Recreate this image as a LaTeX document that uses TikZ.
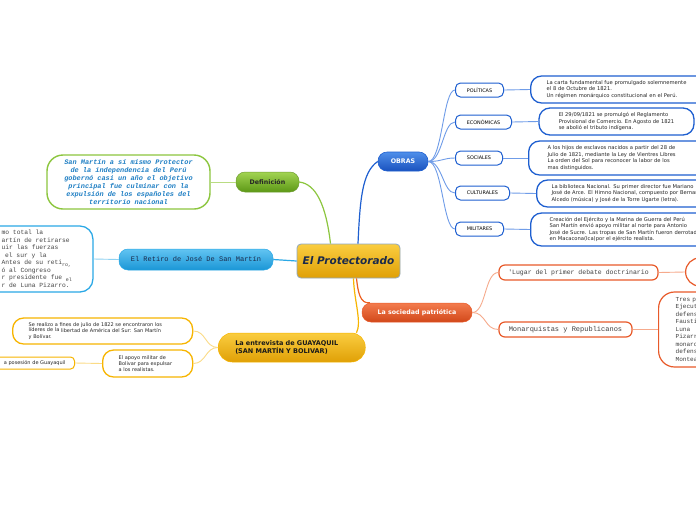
\documentclass[tikz,border=0pt]{standalone}
\usepackage{fontspec}
\setmainfont{DejaVu Sans}
\setsansfont{DejaVu Sans}
\setmonofont{Liberation Mono}
\usetikzlibrary{calc}
\definecolor{cBlue}{HTML}{1E5FD0}
\definecolor{cBlueL}{HTML}{6F9CE8}
\definecolor{cBlueTop}{HTML}{4F8FEA}
\definecolor{cBlueBot}{HTML}{1A52BE}
\definecolor{cGreen}{HTML}{8CC63E}
\definecolor{cGreenL}{HTML}{B9DC82}
\definecolor{cGreenTop}{HTML}{A2D452}
\definecolor{cGreenBot}{HTML}{5C9816}
\definecolor{cCyan}{HTML}{2AA8E6}
\definecolor{cCyanL}{HTML}{90D2F2}
\definecolor{cCyanTop}{HTML}{62C4F2}
\definecolor{cCyanBot}{HTML}{1A96D6}
\definecolor{cGold}{HTML}{F7B500}
\definecolor{cGoldL}{HTML}{FBDB86}
\definecolor{cGoldTop}{HTML}{FACD40}
\definecolor{cGoldBot}{HTML}{E0A006}
\definecolor{cRed}{HTML}{E85A2A}
\definecolor{cRedL}{HTML}{F6AA8C}
\definecolor{cRedTop}{HTML}{F37C4E}
\definecolor{cRedBot}{HTML}{D2481A}
\definecolor{cNavy}{HTML}{1B2A4A}
\definecolor{cDefText}{HTML}{1F7FC4}
\definecolor{cGrayText}{HTML}{444444}
\definecolor{cCentralBorder}{HTML}{8FA8C2}
\newcommand\fsm{\sffamily\fontsize{5.2}{6.6}\selectfont}
\newcommand\fgs{\sffamily\fontsize{5}{6.3}\selectfont}
\begin{document}
\begin{tikzpicture}[x=1pt,y=-1pt,
  central/.style={draw=cCentralBorder, line width=0.8pt, top color=cGoldTop, bottom color=cGoldBot,
    rounded corners=4pt, minimum width=103pt, minimum height=34pt, inner sep=0pt,
    text=cNavy, font=\sffamily\bfseries\itshape\fontsize{10.5}{12}\selectfont},
  mainnode/.style={rounded corners=9pt, inner sep=0pt, font=\sffamily\bfseries\fontsize{6.3}{8}\selectfont},
  pillblue/.style={draw=cBlue, line width=1pt, fill=white, rounded corners=5pt, minimum height=14pt,
    inner sep=0pt, font=\sffamily\fontsize{4.9}{6}\selectfont, anchor=west},
  leafblue/.style={draw=cBlue, line width=1.3pt, fill=white, rounded corners=11pt, inner ysep=2pt,
    font=\fsm, align=left, text=black!85},
  leafgold/.style={draw=cGold, line width=1.3pt, fill=white, rounded corners=11pt, inner ysep=2pt,
    font=\fgs, align=left, text=black!85},
  pillred/.style={draw=cRed, line width=1.2pt, fill=white, rounded corners=6pt, minimum height=15pt,
    inner sep=0pt, text=black!75},
  cnmain/.style={line width=1.2pt},
  cnlight/.style={line width=0.9pt}
]
\useasboundingbox (0,0) rectangle (696,520);
\fill[white] (0,0) rectangle (696,520);
\clip (0,0) rectangle (696,520);

% ---------- nodes ----------
\node[central] (c) at (348.5,261) {El Protectorado};

% OBRAS branch
\node[mainnode, draw=cBlue, line width=0.6pt, top color=cBlueTop, bottom color=cBlueBot, text=white,
  minimum width=50pt, minimum height=19pt] (obras) at (403,161.5) {OBRAS};
\node[pillblue, minimum width=48pt] (pol) at (455,90) {POLÍTICAS};
\node[pillblue, minimum width=56pt] (eco) at (455,122) {ECONÓMICAS};
\node[pillblue, minimum width=47pt] (soc) at (455,158) {SOCIALES};
\node[pillblue, minimum width=54pt] (cul) at (455,193) {CULTURALES};
\node[pillblue, minimum width=48pt] (mil) at (455,229) {MILITARES};

\node[leafblue, anchor=west, inner xsep=16pt, text width=160pt, minimum height=27pt] (lpol) at (530,89.5)
  {La carta fundamental fue promulgado solemnemente\\el 8 de Octubre de 1821.\\Un régimen monárquico constitucional en el Perú.};
\node[leafblue, minimum width=155pt, minimum height=27pt] (leco) at (616.5,121.5)
  {El 29/09/1821 se promulgó el Reglamento\\Provisional de Comercio. En Agosto de 1821\\se abolió el tributo indígena.};
\node[leafblue, anchor=west, inner xsep=19pt, text width=160pt, minimum height=34pt] (lsoc) at (528,158)
  {A los hijos de esclavos nacidos a partir del 28 de\\Julio de 1821, mediante la Ley de Vientres Libres\\La orden del Sol para reconocer la labor de los\\mas distinguidos.};
\node[leafblue, anchor=west, inner xsep=15pt, text width=175pt, minimum height=27pt] (lcul) at (536,193.5)
  {La biblioteca Nacional. Su primer director fue Mariano\\José de Arce. El Himno Nacional, compuesto por Bernardo\\Alcedo (música) y José de la Torre Ugarte (letra).};
\node[leafblue, anchor=west, inner xsep=19pt, text width=175pt, minimum height=33pt] (lmil) at (530,229.5)
  {Creación del Ejército y la Marina de Guerra del Perú\\San Martín envió apoyo militar al norte para Antonio\\José de Sucre. Las tropas de San Martín fueron derrotadas\\en Macacona(Ica)por el ejército realista.};

% Definicion branch
\node[mainnode, draw=cGreen!80!black, line width=0.5pt, top color=cGreenTop, bottom color=cGreenBot, text=black!85,
  minimum width=63pt, minimum height=20pt] (def) at (267.5,182) {Definición};
\node[draw=cGreen, line width=1.4pt, fill=white, rounded corners=16pt, minimum width=163pt, minimum height=54pt,
  inner sep=0pt, align=center, text=cDefText, font=\ttfamily\bfseries\itshape\fontsize{6.9}{8}\selectfont] (ldef) at (128.5,182)
  {San Martín a sí mismo Protector\\de la independencia del Perú\\gobernó casi un año el objetivo\\principal fue culminar con la\\expulsión de los españoles del\\territorio nacional};

% Retiro branch
\node[mainnode, draw=cCyan, line width=0.5pt, top color=cCyanTop, bottom color=cCyanBot, text=cNavy,
  font=\ttfamily\fontsize{7}{8}\selectfont, minimum width=154pt, minimum height=21pt] (ret) at (196,259.5)
  {El Retiro de José De San Martín};
\node[draw=cCyan, line width=1.3pt, fill=white, rounded corners=13pt, anchor=west, inner xsep=21pt, inner ysep=4pt,
  minimum height=66pt, align=left, text=cGrayText, font=\ttfamily\fontsize{6.3}{7.5}\selectfont] (lret) at (-20,259)
  {mo total la\\artín de retirarse\\uir las fuerzas\\\hspace*{3.5pt}el sur y la\\Antes de su reti\raisebox{-1.2pt}{\fontsize{5}{5}\selectfont ro,}\\ó al Congreso\\r presidente fue \raisebox{-1.2pt}{\fontsize{5}{5}\selectfont el}\\r de Luna Pizarro.};

% Guayaquil branch
\node[mainnode, draw=cGold, line width=0.5pt, top color=cGoldTop, bottom color=cGoldBot, text=black!90,
  anchor=west, inner xsep=17pt, text width=113pt, align=left, minimum height=29pt, rounded corners=14pt,
  font=\sffamily\bfseries\fontsize{6.5}{8.6}\selectfont] (gua) at (218,347.5)
  {La entrevista de GUAYAQUIL\\(SAN MARTÍN Y BOLIVAR)};
\node[leafgold, anchor=west, inner xsep=16pt, text width=148pt, minimum height=26pt] (gl1) at (12,331)
  {Se realizo a fines de julio de 1822 se encontraron los\\\raisebox{0.8pt}{líderes de la} libertad de América del Sur: San Martín\\y Bolívar.};
\node[leafgold, anchor=west, inner xsep=16pt, text width=58pt, minimum height=27pt] (gl2) at (102,363.5)
  {El apoyo militar de\\Bolivar para expulsar\\a los realistas.};
\node[draw=cGold, line width=1pt, fill=white, rounded corners=4pt, anchor=east, inner xsep=9pt, inner ysep=0pt,
  text width=110pt, align=right, minimum height=12pt, font=\fgs, text=black!85] (gl3) at (75,363)
  {a posesión de Guayaquil};

% Sociedad branch
\node[mainnode, draw=cRed, line width=0.5pt, top color=cRedTop, bottom color=cRedBot, text=white,
  minimum width=110pt, minimum height=19pt] (soci) at (417,312.5) {La sociedad patriótica};
\node[pillred, minimum width=159pt, font=\ttfamily\fontsize{6.5}{8}\selectfont] (s1) at (578.5,272.5)
  {'Lugar del primer debate doctrinario};
\node[pillred, anchor=west, minimum width=40pt, minimum height=28pt, rounded corners=14pt] (s1c) at (685,272) {};
\node[pillred, minimum width=133pt, font=\ttfamily\fontsize{7}{8}\selectfont] (s2) at (565.5,329.5)
  {Monarquistas y Republicanos};
\node[pillred, anchor=west, inner xsep=17pt, text width=70pt, minimum height=75pt, rounded corners=16pt,
  align=left, font=\ttfamily\fontsize{6.1}{7.5}\selectfont] (s2c) at (658,329.5)
  {Tres p\\Ejecut\\defens\\Fausti\\Luna\\Pizarr\\monarc\\defens\\Montea};

% ---------- connectors ----------
\draw[cnmain, cBlue] ([xshift=9.5pt]c.north) .. controls (360,200) and (362,172) .. (obras.west);
\draw[cnmain, cGreen] ([xshift=-18pt]c.north) .. controls (326,205) and (316,184) .. (def.east);
\draw[cnmain, cCyan] (c.west) -- (ret.east);
\draw[cnmain, cGold] ([xshift=5pt]c.south) .. controls (354,300) and (362,322) .. ([xshift=-9pt]gua.north east);
\draw[cnmain, cRed!80!orange] ([xshift=8pt]c.south) .. controls (358,292) and (360,304) .. ([xshift=8pt]soci.north west);

\foreach \t in {pol,eco,soc,cul,mil}{
  \draw[cnlight, cBlueL] (obras.east) .. controls +(14,0) and +(-12,0) .. (\t.west);
}
\draw[cnlight, cBlueL] (pol.east) -- (lpol.west);
\draw[cnlight, cBlueL] (eco.east) -- (leco.west);
\draw[cnlight, cBlueL] (soc.east) -- (lsoc.west);
\draw[cnlight, cBlueL] (cul.east) -- (lcul.west);
\draw[cnlight, cBlueL] (mil.east) -- (lmil.west);

\draw[cnlight, cGreenL] (def.west) -- (ldef.east);
\draw[cnlight, cCyanL] (ret.west) -- (lret.east);

\draw[cnlight, cGoldL] (gua.west) .. controls +(-13,0) and +(13,0) .. (gl1.east);
\draw[cnlight, cGoldL] (gua.west) .. controls +(-13,0) and +(13,0) .. (gl2.east);
\draw[cnlight, cGoldL] (gl2.west) -- (gl3.east);

\draw[cnlight, cRedL] (soci.east) .. controls +(14,0) and +(-14,0) .. (s1.west);
\draw[cnlight, cRedL] (soci.east) .. controls +(14,0) and +(-14,0) .. (s2.west);
\draw[cnlight, cRedL] (s1.east) -- (s1c.west);
\draw[cnlight, cRedL] (s2.east) -- (s2c.west);
\end{tikzpicture}
\end{document}
